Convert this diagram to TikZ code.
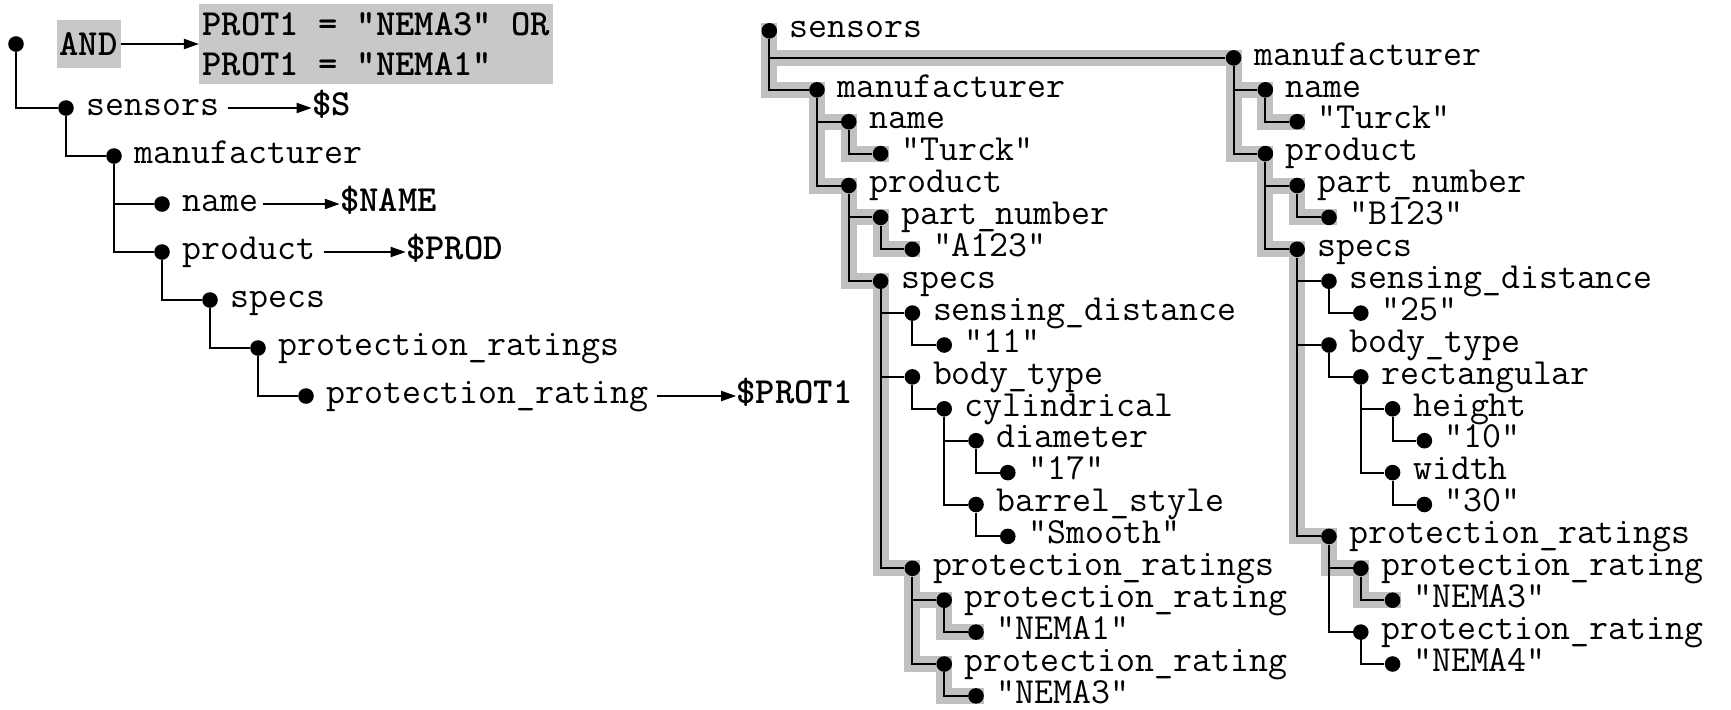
\documentclass[tikz,border=0pt]{standalone}
\definecolor{halogray}{RGB}{192,192,192}
\definecolor{boxgray}{RGB}{200,200,200}
\usepackage{tikz}
\usetikzlibrary{arrows.meta,positioning,backgrounds}

\begin{document}
\begin{tikzpicture}[x=0.5pt, y=-0.5pt,
      node distance=6pt,
      dot/.style={circle, fill=black, inner sep=0pt, minimum size=7.8pt},
      lbl/.style={inner sep=0pt, text height=8.7pt, text depth=1.5pt,
                  font=\fontsize{18.4}{20}\selectfont\ttfamily},
      var/.style={lbl, font=\fontsize{18.4}{20}\selectfont\ttfamily\bfseries},
      qbox/.style={fill=boxgray, inner xsep=1.5pt, inner ysep=0pt, align=left,
                  font=\fontsize{18.4}{20}\selectfont\ttfamily\bfseries},
      br/.style={line width=1pt},
      halo/.style={draw=halogray, line width=8pt, line cap=rect, line join=miter},
      arr/.style={-{Triangle[length=7.5pt,width=5pt]}, line width=1pt}
  ]
    \useasboundingbox (0,0) rectangle (1731,709);

    % query tree
    \node[dot] (q) at (16,44) {};
    \node[qbox, minimum height=24pt, right=16pt of q] (and) {AND};
    \node[qbox, minimum height=40pt, right=39pt of and] (cond)
        {PROT1 = “NEMA3” OR\\PROT1 = “NEMA1”};
    \draw[arr] (and) -- (cond);

    \node[dot] (qs) at (66,108) {};    \node[lbl, right=of qs] (qs-t) {sensors};
    \node[dot] (qm) at (114,156) {};   \node[lbl, right=of qm] (qm-t) {manufacturer};
    \node[dot] (qn) at (162,204) {};   \node[lbl, right=of qn] (qn-t) {name};
    \node[dot] (qp) at (162,252) {};   \node[lbl, right=of qp] (qp-t) {product};
    \node[dot] (qsp) at (210,300) {};  \node[lbl, right=of qsp] (qsp-t) {specs};
    \node[dot] (qprs) at (258,348) {}; \node[lbl, right=of qprs] (qprs-t) {protection\_ratings};
    \node[dot] (qpr) at (306,396) {};  \node[lbl, right=of qpr] (qpr-t) {protection\_rating};

    \node[var, right=46pt of qs-t] (vs) {\$S};
    \node[var, right=40.5pt of qn-t] (vn) {\$NAME};
    \node[var, right=45pt of qp-t] (vp) {\$PROD};
    \node[var, right=43.5pt of qpr-t] (vpr) {\$PROT1};
    \draw[arr, shorten <=4pt] (qs-t) -- (vs);
    \draw[arr, shorten <=2pt] (qn-t) -- (vn);
    \draw[arr, shorten <=4pt] (qp-t) -- (vp);
    \draw[arr, shorten <=4pt] (qpr-t) -- (vpr);

    \draw[br] (q) |- (qs) (qs) |- (qm) (qm) |- (qn) (qm) |- (qp)
              (qp) |- (qsp) (qsp) |- (qprs) (qprs) |- (qpr);

    % document tree
    \begin{scope}[xshift=408.5pt, yshift=-13pt, x=15.9pt, y=-15.95pt]
      \node[dot] (top) at (-1.5,0.15) {}; \node[lbl, right=of top] (top-t) {sensors};

      \node[dot] (lm) at (0,2) {};      \node[lbl, right=of lm] (lm-t) {manufacturer};
      \node[dot] (ln) at (1,3) {};      \node[lbl, right=of ln] (ln-t) {name};
      \node[dot] (lnv) at (2,4) {};     \node[lbl, right=of lnv] (lnv-t) {“Turck”};
      \node[dot] (lp) at (1,5) {};      \node[lbl, right=of lp] (lp-t) {product};
      \node[dot] (lpn) at (2,6) {};     \node[lbl, right=of lpn] (lpn-t) {part\_number};
      \node[dot] (lpnv) at (3,7) {};    \node[lbl, right=of lpnv] (lpnv-t) {“A123”};
      \node[dot] (ls) at (2,8) {};      \node[lbl, right=of ls] (ls-t) {specs};
      \node[dot] (lsd) at (3,9) {};     \node[lbl, right=of lsd] (lsd-t) {sensing\_distance};
      \node[dot] (lsdv) at (4,10) {};   \node[lbl, right=of lsdv] (lsdv-t) {“11”};
      \node[dot] (lbt) at (3,11) {};    \node[lbl, right=of lbt] (lbt-t) {body\_type};
      \node[dot] (lcy) at (4,12) {};    \node[lbl, right=of lcy] (lcy-t) {cylindrical};
      \node[dot] (ldi) at (5,13) {};    \node[lbl, right=of ldi] (ldi-t) {diameter};
      \node[dot] (ldiv) at (6,14) {};   \node[lbl, right=of ldiv] (ldiv-t) {“17”};
      \node[dot] (lbs) at (5,15) {};    \node[lbl, right=of lbs] (lbs-t) {barrel\_style};
      \node[dot] (lbsv) at (6,16) {};   \node[lbl, right=of lbsv] (lbsv-t) {“Smooth”};
      \node[dot] (lprs) at (3,17) {};   \node[lbl, right=of lprs] (lprs-t) {protection\_ratings};
      \node[dot] (lpr1) at (4,18) {};   \node[lbl, right=of lpr1] (lpr1-t) {protection\_rating};
      \node[dot] (lpr1v) at (5,19) {};  \node[lbl, right=of lpr1v] (lpr1v-t) {“NEMA1”};
      \node[dot] (lpr2) at (4,20) {};   \node[lbl, right=of lpr2] (lpr2-t) {protection\_rating};
      \node[dot] (lpr2v) at (5,21) {};  \node[lbl, right=of lpr2v] (lpr2v-t) {“NEMA3”};

      \node[dot] (rm) at (13.1,1) {};     \node[lbl, right=of rm] (rm-t) {manufacturer};
      \node[dot] (rn) at (14.1,2) {};     \node[lbl, right=of rn] (rn-t) {name};
      \node[dot] (rnv) at (15.1,3) {};    \node[lbl, right=of rnv] (rnv-t) {“Turck”};
      \node[dot] (rp) at (14.1,4) {};     \node[lbl, right=of rp] (rp-t) {product};
      \node[dot] (rpn) at (15.1,5) {};    \node[lbl, right=of rpn] (rpn-t) {part\_number};
      \node[dot] (rpnv) at (16.1,6) {};   \node[lbl, right=of rpnv] (rpnv-t) {“B123”};
      \node[dot] (rsp) at (15.1,7) {};    \node[lbl, right=of rsp] (rsp-t) {specs};
      \node[dot] (rsd) at (16.1,8) {};    \node[lbl, right=of rsd] (rsd-t) {sensing\_distance};
      \node[dot] (rsdv) at (17.1,9) {};   \node[lbl, right=of rsdv] (rsdv-t) {“25”};
      \node[dot] (rbt) at (16.1,10) {};   \node[lbl, right=of rbt] (rbt-t) {body\_type};
      \node[dot] (rre) at (17.1,11) {};   \node[lbl, right=of rre] (rre-t) {rectangular};
      \node[dot] (rhe) at (18.1,12) {};   \node[lbl, right=of rhe] (rhe-t) {height};
      \node[dot] (rhev) at (19.1,13) {};  \node[lbl, right=of rhev] (rhev-t) {“10”};
      \node[dot] (rwi) at (18.1,14) {};   \node[lbl, right=of rwi] (rwi-t) {width};
      \node[dot] (rwiv) at (19.1,15) {};  \node[lbl, right=of rwiv] (rwiv-t) {“30”};
      \node[dot] (rprs) at (16.1,16) {};  \node[lbl, right=of rprs] (rprs-t) {protection\_ratings};
      \node[dot] (rpr1) at (17.1,17) {};  \node[lbl, right=of rpr1] (rpr1-t) {protection\_rating};
      \node[dot] (rpr1v) at (18.1,18) {}; \node[lbl, right=of rpr1v] (rpr1v-t) {“NEMA3”};
      \node[dot] (rpr2) at (17.1,19) {};  \node[lbl, right=of rpr2] (rpr2-t) {protection\_rating};
      \node[dot] (rpr2v) at (18.1,20) {}; \node[lbl, right=of rpr2v] (rpr2v-t) {“NEMA4”};

      \draw[br] (top) |- (lm) (top) |- (rm)
                (lm) |- (ln) (ln) |- (lnv) (lm) |- (lp) (lp) |- (lpn) (lpn) |- (lpnv)
                (lp) |- (ls) (ls) |- (lsd) (lsd) |- (lsdv) (ls) |- (lbt) (lbt) |- (lcy)
                (lcy) |- (ldi) (ldi) |- (ldiv) (lcy) |- (lbs) (lbs) |- (lbsv)
                (ls) |- (lprs) (lprs) |- (lpr1) (lpr1) |- (lpr1v) (lprs) |- (lpr2) (lpr2) |- (lpr2v);
      \draw[br] (rm) |- (rn) (rn) |- (rnv) (rm) |- (rp) (rp) |- (rpn) (rpn) |- (rpnv)
                (rp) |- (rsp) (rsp) |- (rsd) (rsd) |- (rsdv) (rsp) |- (rbt) (rbt) |- (rre)
                (rre) |- (rhe) (rhe) |- (rhev) (rre) |- (rwi) (rwi) |- (rwiv)
                (rsp) |- (rprs) (rprs) |- (rpr1) (rpr1) |- (rpr1v) (rprs) |- (rpr2) (rpr2) |- (rpr2v);

      % matched paths
      \begin{scope}[on background layer]
        \draw[halo] (top.center) |- (lm.center) (top.center) |- (rm.center)
                    (lm.center) |- (ln.center) (ln.center) |- (lnv.center)
                    (lm.center) |- (lp.center) (lp.center) |- (lpn.center) (lpn.center) |- (lpnv.center)
                    (lp.center) |- (ls.center) (ls.center) |- (lprs.center)
                    (lprs.center) |- (lpr1.center) (lpr1.center) |- (lpr1v.center)
                    (lprs.center) |- (lpr2.center) (lpr2.center) |- (lpr2v.center);
        \draw[halo] (rm.center) |- (rn.center) (rn.center) |- (rnv.center)
                    (rm.center) |- (rp.center) (rp.center) |- (rpn.center) (rpn.center) |- (rpnv.center)
                    (rp.center) |- (rsp.center) (rsp.center) |- (rprs.center)
                    (rprs.center) |- (rpr1.center) (rpr1.center) |- (rpr1v.center);
      \end{scope}
    \end{scope}
  \end{tikzpicture}
\end{document}
